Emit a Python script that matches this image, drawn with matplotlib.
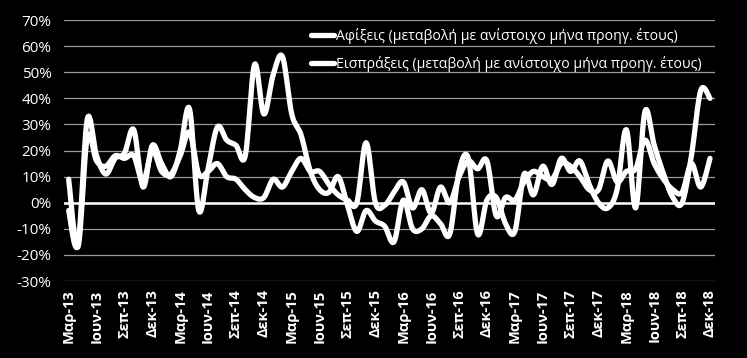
import numpy as np
import matplotlib
matplotlib.use("Agg")
import matplotlib.pyplot as plt
from matplotlib.ticker import FuncFormatter

plt.rcParams['font.family'] = ['Open Sans', 'DejaVu Sans']

# monthly data, Mar-13 .. Dec-18 (70 months)
arrivals = [-3, -16, 32, 18, 11, 17, 19, 28, 6, 22, 15, 10,
            20, 36, -3, 13, 29, 24, 22, 18, 53, 34, 49, 56,
            34, 26, 12, 5, 4, 10, -1, -11, -3, -7, -9, -15,
            1, -10, -10, -5, -8, -12, 12, 17, -12, 1, 2, -8,
            -11, 11, 3, 14, 7, 17, 12, 16, 7, 0, -2, 5,
            28, -2, 35, 22, 11, 2, 0, 18, 43, 40]
receipts = [9, -17, 25, 16, 14, 18, 17, 18, 8, 20, 12, 11,
            18, 27, 11, 12, 15, 10, 9, 5, 2, 2, 9, 6,
            12, 17, 12, 12, 7, 3, 1, 0, 23, 0, -1, 4,
            8, -2, 5, -4, 6, 0, 10, 16, 13, 16, -5, 2,
            1, 8, 12, 10, 9, 15, 14, 10, 5, 5, 16, 8,
            12, 13, 24, 15, 9, 5, 4, 15, 6, 17]

month_names = ['Μαρ', 'Ιουν', 'Σεπ', 'Δεκ']
years = ['13', '14', '15', '16', '17', '18']
tick_labels = [m + '-' + y for y in years for m in month_names]

labels = ['Αφίξεις (μεταβολή με ανίστοιχο μήνα προηγ. έτους)',
          'Εισπράξεις (μεταβολή με ανίστοιχο μήνα προηγ. έτους)']


def smooth(y, n=12):
    # catmull-rom curve through the points, like excel smoothed lines
    y = np.asarray(y, dtype=float)
    x = np.arange(len(y), dtype=float)
    px = np.concatenate([[x[0]], x, [x[-1]]])
    py = np.concatenate([[y[0]], y, [y[-1]]])
    xs, ys = [], []
    t = np.linspace(0, 1, n, endpoint=False)
    for i in range(1, len(px) - 2):
        for p, out in ((px, xs), (py, ys)):
            p0, p1, p2, p3 = p[i - 1], p[i], p[i + 1], p[i + 2]
            out.extend(0.5 * (2 * p1 + (-p0 + p2) * t
                              + (2 * p0 - 5 * p1 + 4 * p2 - p3) * t ** 2
                              + (-p0 + 3 * p1 - 3 * p2 + p3) * t ** 3))
    xs.append(x[-1])
    ys.append(y[-1])
    return np.array(xs), np.array(ys)


fig = plt.figure(figsize=(7.47, 3.58), dpi=100, facecolor='black')
ax = fig.add_axes([0.0857, 0.215, 0.871, 0.729], facecolor='black')

for v in range(-30, 80, 10):
    if v == 0:
        continue
    ax.axhline(v, color='#9a9a9a', lw=0.9, zorder=1)
ax.axhline(0, color='white', lw=1.8, zorder=1)

for series, lab in zip([arrivals, receipts], labels):
    sx, sy = smooth(series)
    ax.plot(sx, sy, color='white', lw=3.8, solid_capstyle='round',
            solid_joinstyle='round', label=lab, zorder=3)

ax.set_xlim(-0.5, len(arrivals) - 0.5)
ax.set_ylim(-30, 70)
ax.set_yticks(range(-30, 80, 10))
ax.yaxis.set_major_formatter(FuncFormatter(lambda v, p: f'{v:.0f}%'))
ax.set_xticks(range(0, len(arrivals), 3))
ax.set_xticklabels(tick_labels, rotation=90, fontweight='bold')
ax.tick_params(axis='y', colors='white', length=0, labelsize=11, pad=9)
ax.tick_params(axis='x', colors='white', length=0, labelsize=10.5, pad=6)
for s in ax.spines.values():
    s.set_visible(False)

leg = ax.legend(loc='upper left', bbox_to_anchor=(0.36, 1.02), frameon=False,
                handlelength=1.6, handletextpad=0.2, labelspacing=0.85,
                fontsize=10.2)
for t in leg.get_texts():
    t.set_color('white')

fig.savefig('out.png', dpi=100, facecolor='black')
